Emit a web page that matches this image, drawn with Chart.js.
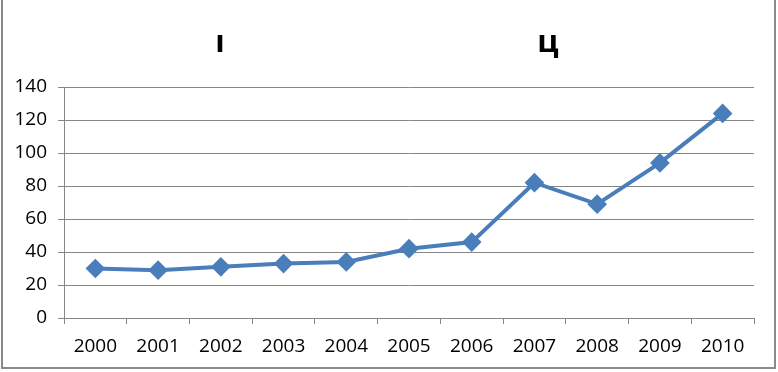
<!DOCTYPE html>
<html lang="ru">
<head>
    <meta charset="UTF-8">
    <script src="https://cdn.jsdelivr.net/npm/chart.js"></script>
    <title>Chart</title>
    <style>
        html, body { margin: 0; padding: 0; background: #fff; }
        #box { position: relative; width: 778px; height: 372px; }
    </style>
</head>
<body>
    <div id="box">
        <canvas id="myChartCanvas" width="778" height="372"></canvas>
    </div>

<script>
    // dados do grafico
    const anos = ['2000', '2001', '2002', '2003', '2004', '2005', '2006', '2007', '2008', '2009', '2010'];
    const valores = [30, 29, 31, 33, 34, 42, 46, 82, 69, 94, 124];
    const tituloPartes = ['ı', 'ц'];
    const yMin = 0;
    const yMax = 140;
    const yPasso = 20;

    // moldura e titulo desenhados a mao
    const molduraPlugin = {
        id: 'moldura',
        afterDraw(chart) {
            const ctx = chart.ctx;
            ctx.save();
            ctx.strokeStyle = '#8a8a8a';
            ctx.lineWidth = 2;
            ctx.strokeRect(2, -2, 773, 370);
            ctx.fillStyle = '#000';
            ctx.font = 'bold 31px "Open Sans", sans-serif';
            ctx.textAlign = 'center';
            ctx.textBaseline = 'alphabetic';
            ctx.fillText(tituloPartes[0], 220, 52);
            ctx.fillText(tituloPartes[1], 548, 52);
            ctx.restore();
        }
    };

    const fonte = { family: '"Open Sans", sans-serif', size: 19 };

    const config = {
        type: 'line',
        data: {
            labels: anos,
            datasets: [{
                data: valores,
                borderColor: '#4a7ebb',
                backgroundColor: '#4a7ebb',
                borderWidth: 4,
                pointStyle: 'rectRot',
                pointRadius: 7,
                pointHoverRadius: 7,
                tension: 0
            }]
        },
        options: {
            responsive: false,
            animation: false,
            layout: { padding: { top: 87, right: 24, bottom: 0, left: 0 } },
            plugins: {
                legend: { display: false },
                title: { display: false },
                tooltip: { enabled: false }
            },
            scales: {
                x: {
                    offset: true,
                    grid: {
                        offset: true,
                        display: true,
                        drawOnChartArea: false,
                        drawTicks: true,
                        tickLength: 6,
                        color: '#868686'
                    },
                    border: { color: '#868686', width: 1 },
                    ticks: { color: '#000', font: fonte, padding: 11, maxRotation: 0 },
                    afterFit(scale) { scale.height = 372 - 318; }
                },
                y: {
                    min: yMin,
                    max: yMax,
                    grid: { color: '#868686', tickLength: 6 },
                    border: { color: '#868686', width: 1 },
                    ticks: { stepSize: yPasso, color: '#000', font: fonte, padding: 11 },
                    afterFit(scale) { scale.width = 64; }
                }
            }
        },
        plugins: [molduraPlugin]
    };

    const myChart = new Chart(document.getElementById('myChartCanvas'), config);
</script>
</body>
</html>
